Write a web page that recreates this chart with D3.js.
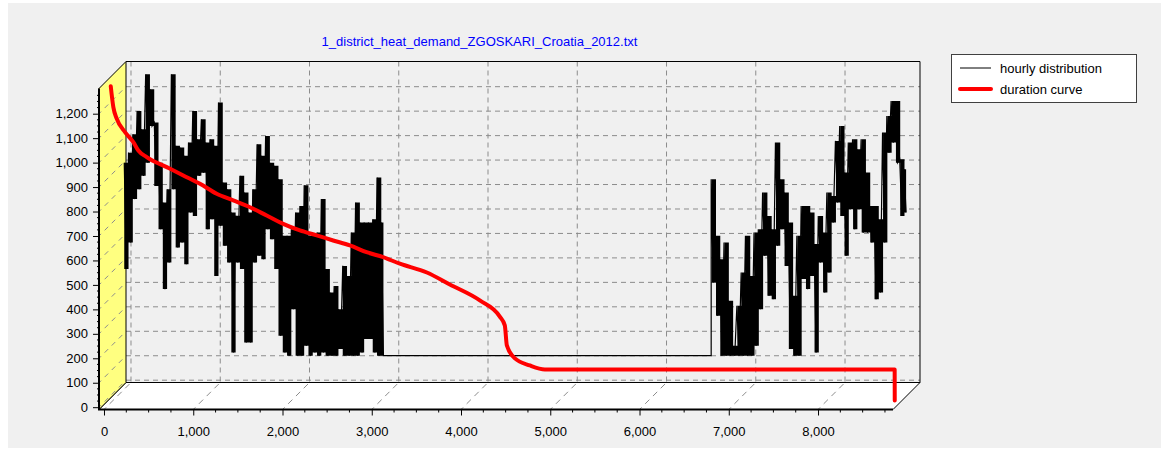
<!DOCTYPE html>
<html>
<head>
<meta charset="utf-8">
<script src="https://cdn.jsdelivr.net/npm/d3@7"></script>
<style>
  body { margin: 0; background: #ffffff; }
  text { font-family: "Liberation Sans", Arial, sans-serif; }
</style>
</head>
<body>
<div id="vis"></div>
<script>
// hourly distribution, read as 48-hour envelopes (max, min)
const bucketHours = 48;
const baseLoad = 128;
const winterHi = [917, 958, 1033, 1128, 1054, 1278, 1217, 1081, 917, 754,
  808, 1278, 986, 979, 945, 999, 1128, 1013, 1094, 999,
  1013, 986, 1163, 836, 808, 713, 700, 863, 795, 713,
  808, 992, 945, 1026, 917, 904, 849, 618, 618, 645,
  713, 740, 825, 618, 618, 631, 768, 482, 386, 413,
  318, 495, 454, 631, 754, 672, 672, 672, 686, 856,
  672];
const winterLo = [482, 591, 768, 808, 863, 917, 1067, 822, 645, 400,
  509, 808, 570, 591, 502, 713, 699, 863, 876, 645,
  686, 454, 659, 577, 509, 141, 509, 482, 182, 182,
  509, 536, 522, 645, 604, 482, 209, 141, 128, 318,
  128, 128, 168, 128, 141, 128, 141, 128, 128, 128,
  155, 128, 128, 128, 128, 141, 196, 196, 141, 128,
  128];
const autumnStart = 6576;
const autumnHi = [849, 618, 522, 591, 352, 168, 332, 468, 618, 454,
  631, 645, 795, 699, 645, 999, 849, 795, 672, 373,
  618, 740, 740, 713, 584, 699, 631, 795, 781, 1006,
  1067, 877, 999, 1013, 972, 1013, 877, 740, 740, 686,
  1040, 1108, 1169, 1169, 931, 890];
const autumnLo = [427, 291, 128, 128, 128, 128, 128, 128, 128, 128,
  168, 318, 536, 373, 359, 577, 645, 495, 155, 128,
  128, 441, 400, 454, 141, 509, 386, 468, 672, 754,
  699, 536, 727, 645, 727, 631, 631, 591, 359, 386,
  591, 958, 999, 917, 699, 713];

// duration curve (sorted hours)
const durationHours = [0, 29, 67, 160, 253, 309, 403, 627, 813, 1000,
  1187, 1372, 1560, 1747, 1932, 2119, 2307, 2492, 2679, 2866,
  3052, 3239, 3542, 3799, 4135, 4359, 4415, 4438, 4528, 4696,
  4864, 8783, 8784];
const durationValues = [1285, 1199, 1152, 1097, 1056, 1022, 995, 954, 920, 886,
  845, 818, 790, 756, 722, 695, 675, 654, 634, 606,
  586, 559, 523, 474, 409, 343, 307, 225, 172, 143,
  127, 127, 0];

const yTicks = d3.range(0, 1201, 100);
const xTicks = d3.range(0, 8001, 1000);
const titleText = "1_district_heat_demand_ZGOSKARI_Croatia_2012.txt";
const legendLabels = ["hourly distribution", "duration curve"];

const width = 1169, height = 454;
const depth = 27;
const redZ = 6.75, blackZ = 20.25;

const svg = d3.select("#vis").append("svg")
  .attr("width", width).attr("height", height);

svg.append("rect").attr("x", 8).attr("y", 3).attr("width", 1153).attr("height", 445)
  .attr("fill", "#f0f0f0");

const x = d3.scaleLinear().domain([-56, 8840]).range([99, 893]);
const y = d3.scaleLinear().domain([-9.4, 1303]).range([409.5, 88.5]);
const L = 99, R = 893, T = 88.5, B = 409.5;

// back wall grid
const grid = svg.append("g").attr("stroke", "#8c8c8c").attr("stroke-dasharray", "5,4");
grid.selectAll(".hg").data(yTicks).join("line")
  .attr("x1", L + depth).attr("x2", R + depth)
  .attr("y1", d => y(d) - depth).attr("y2", d => y(d) - depth);
grid.selectAll(".vg").data(xTicks).join("line")
  .attr("x1", d => x(d) + depth).attr("x2", d => x(d) + depth)
  .attr("y1", T - depth).attr("y2", B - depth);

// floor
svg.append("polygon")
  .attr("points", [[L, B], [R, B], [R + depth, B - depth], [L + depth, B - depth]].join(" "))
  .attr("fill", "#ffffff").attr("stroke", "#000").attr("stroke-width", 1);
svg.append("g").attr("stroke", "#8c8c8c").attr("stroke-dasharray", "6,5").attr("stroke-dashoffset", -8)
  .selectAll("line").data(xTicks).join("line")
  .attr("x1", d => x(d)).attr("y1", B).attr("x2", d => x(d) + depth).attr("y2", B - depth);

// left wall
svg.append("polygon")
  .attr("points", [[L, B], [L, T], [L + depth, T - depth], [L + depth, B - depth]].join(" "))
  .attr("fill", "#ffff80").attr("stroke", "#000").attr("stroke-width", 1);
svg.append("g").attr("stroke", "#8c8c8c").attr("stroke-dasharray", "5,5").attr("stroke-dashoffset", -8)
  .selectAll("line").data(yTicks).join("line")
  .attr("x1", L).attr("y1", d => y(d)).attr("x2", L + depth).attr("y2", d => y(d) - depth);

// back wall border (top and right)
svg.append("path")
  .attr("d", `M${L + depth},${T - depth}H${R + depth}V${B - depth}`)
  .attr("fill", "none").attr("stroke", "#000");

// hourly distribution
const hourly = [];
const bands = [];
winterHi.forEach((v, i) => {
  hourly.push([i * bucketHours, v]);
  hourly.push([i * bucketHours + bucketHours / 2, winterLo[i]]);
  bands.push([i * bucketHours, v, winterLo[i]]);
});
bands.push([winterHi.length * bucketHours - 24, winterHi[winterHi.length - 1], winterLo[winterLo.length - 1]]);
hourly.push([winterHi.length * bucketHours - 20, baseLoad]);
hourly.push([autumnStart, baseLoad]);
const autumnBands = [];
autumnHi.forEach((v, i) => {
  hourly.push([autumnStart + i * bucketHours, v]);
  hourly.push([autumnStart + i * bucketHours + bucketHours / 2, autumnLo[i]]);
  autumnBands.push([autumnStart + i * bucketHours + 6, v, autumnLo[i]]);
});
autumnBands.push([autumnStart + autumnHi.length * bucketHours - 24, autumnHi[autumnHi.length - 1], autumnLo[autumnLo.length - 1]]);

const band = d3.area().curve(d3.curveStepAfter)
  .x(d => x(d[0]) + blackZ).y0(d => y(d[2]) - blackZ).y1(d => y(d[1]) - blackZ);
svg.append("g").selectAll("path").data([bands, autumnBands]).join("path")
  .attr("d", band).attr("fill", "#000").attr("stroke", "none");

const blackLine = d3.line().x(d => x(d[0]) + blackZ).y(d => y(d[1]) - blackZ);
svg.append("path").datum(hourly)
  .attr("d", blackLine)
  .attr("fill", "none").attr("stroke", "#000").attr("stroke-width", 1.2);

// duration curve
const redLine = d3.line().x(d => x(d[0]) + redZ).y(d => y(d[1]) - redZ).curve(d3.curveMonotoneX);
svg.append("path").datum(d3.zip(durationHours, durationValues))
  .attr("d", redLine)
  .attr("fill", "none").attr("stroke", "#ff0000").attr("stroke-width", 4)
  .attr("stroke-linejoin", "round").attr("stroke-linecap", "round");

// axes
const yAxis = svg.append("g").attr("transform", `translate(${L},0)`)
  .call(d3.axisLeft(y).tickValues(yTicks).tickFormat(d3.format(",")).tickSize(6).tickPadding(5));
const xAxis = svg.append("g").attr("transform", `translate(0,${B})`)
  .call(d3.axisBottom(x).tickValues(xTicks).tickFormat(d3.format(",")).tickSize(6).tickPadding(11));
[yAxis, xAxis].forEach(g => {
  g.select(".domain").remove();
  g.selectAll("text").attr("font-family", "Liberation Sans, Arial, sans-serif")
    .attr("font-size", 13).attr("fill", "#000");
});
svg.append("g").selectAll("line").data(d3.range(0, 1301, 25).filter(d => d % 100)).join("line")
  .attr("x1", L - 2).attr("x2", L).attr("y1", d => y(d)).attr("y2", d => y(d)).attr("stroke", "#000");
svg.append("g").selectAll("line").data(d3.range(250, 8800, 250).filter(d => d % 1000)).join("line")
  .attr("x1", d => x(d)).attr("x2", d => x(d)).attr("y1", B).attr("y2", B + 3).attr("stroke", "#000");
svg.append("path").attr("d", `M${L},${T}V${B}H${R}`)
  .attr("fill", "none").attr("stroke", "#000").attr("stroke-width", 2);

// title
svg.append("text").attr("x", 479.5).attr("y", 46).attr("text-anchor", "middle")
  .attr("font-size", 13).attr("fill", "#0000ff").text(titleText);

// legend
const legend = svg.append("g");
legend.append("rect").attr("x", 951.5).attr("y", 54.5).attr("width", 185).attr("height", 48)
  .attr("fill", "#fff").attr("stroke", "#404040");
const legendColors = ["#000", "#ff0000"], legendWidths = [1, 4];
legendLabels.forEach((t, i) => {
  legend.append("line").attr("x1", 960).attr("x2", 991).attr("y1", 68 + i * 21).attr("y2", 68 + i * 21)
    .attr("stroke", legendColors[i]).attr("stroke-width", legendWidths[i]).attr("stroke-linecap", i ? "round" : "butt");
  legend.append("text").attr("x", 1000).attr("y", 73 + i * 21).attr("font-size", 13).attr("fill", "#000").text(t);
});
</script>
</body>
</html>
